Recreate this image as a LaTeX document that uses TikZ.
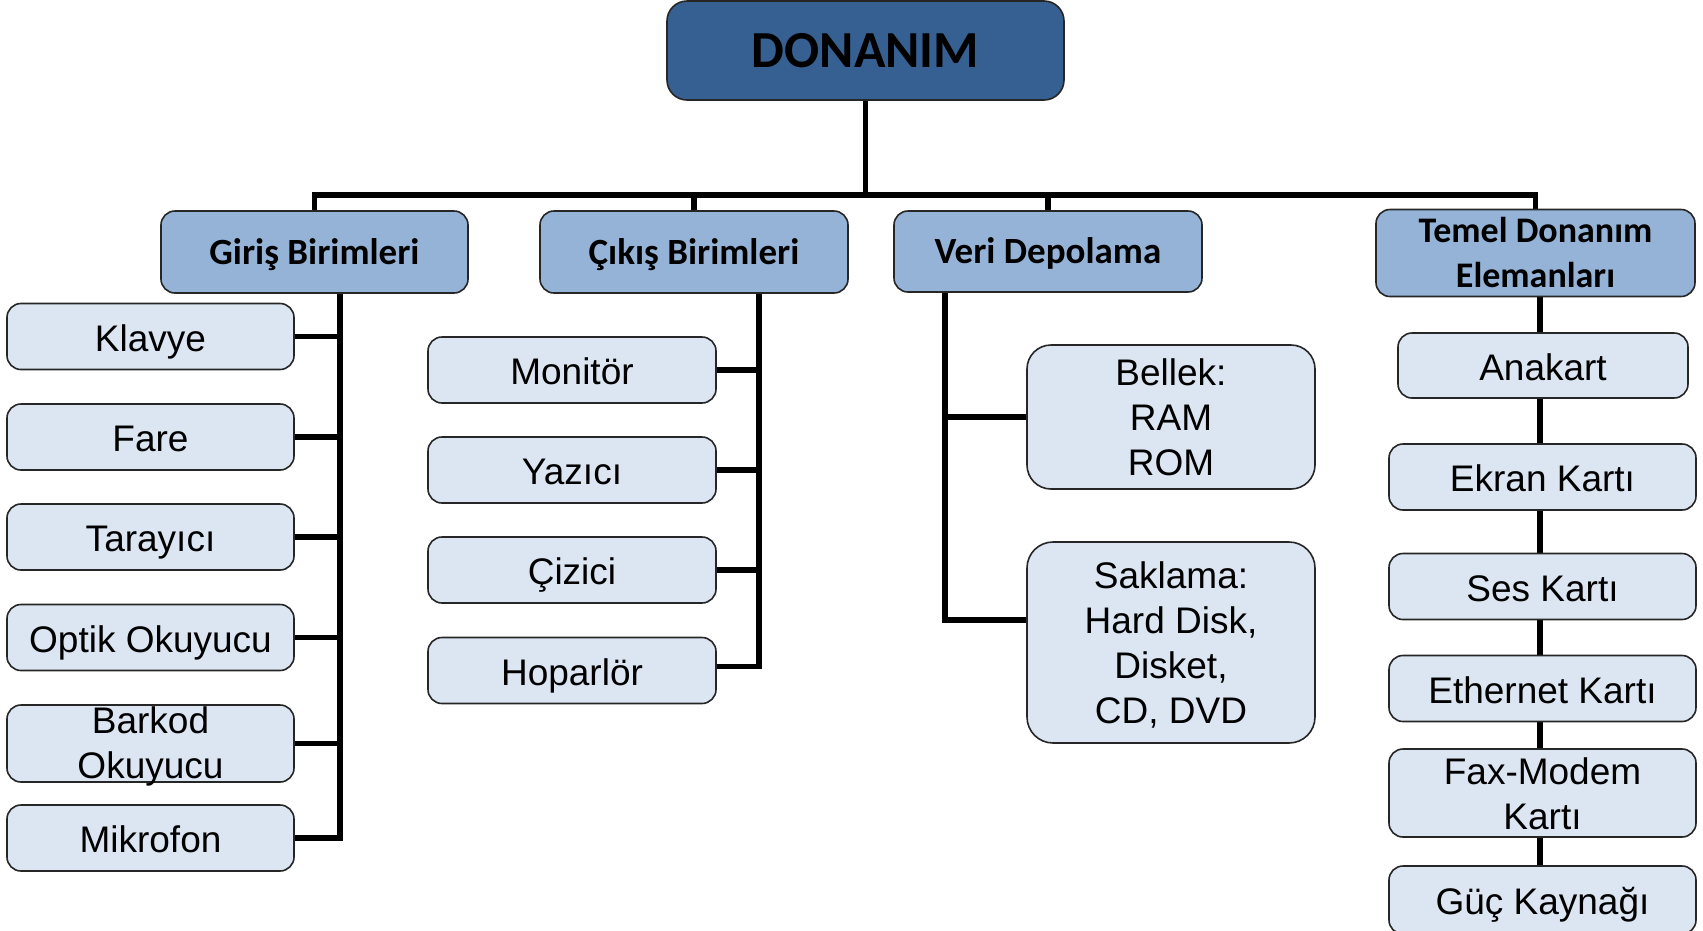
\documentclass[tikz,border=0pt]{standalone}
\usepackage{fontspec}
\setmainfont{Liberation Sans}
\newfontfamily\headfont{Carlito}
\usetikzlibrary{backgrounds}

\definecolor{rootblue}{HTML}{376092}
\definecolor{catblue}{HTML}{95B3D7}
\definecolor{itemblue}{HTML}{DCE6F2}

% soft grey towards the corners of the sheet
\pgfdeclareradialshading{vignette}{\pgfpoint{0bp}{0bp}}{%
  color(0bp)=(white); color(46bp)=(white); color(71bp)=(black!16)}

% taller first line for the multi-line labels
\newcommand\firstline[1][35pt]{\rule{0pt}{#1}}

\begin{document}
\begin{tikzpicture}[x=1pt,y=-1pt,
  box/.style={draw=black!85, line width=1.6pt, rounded corners=14pt,
              inner sep=0pt, align=center},
  root/.style={box, fill=rootblue, rounded corners=20pt,
               font=\headfont\bfseries\fontsize{52}{60}\selectfont},
  % fixed struts keep every baseline at the same place in its box
  cat/.style={box, fill=catblue,
              font=\headfont\bfseries\fontsize{37}{45}\selectfont,
              execute at begin node={\rule[-9pt]{0pt}{42pt}}},
  item/.style={box, fill=itemblue, font=\fontsize{37}{45}\selectfont,
              execute at begin node={\rule[-8pt]{0pt}{45pt}}},
  multi/.style={execute at begin node={}},
  gitem/.style={item, minimum width=287pt, minimum height=66pt},
  citem/.style={item, minimum width=288pt, minimum height=66pt},
  titem/.style={item, minimum width=307pt, minimum height=66pt},
  link/.style={line width=5.5pt, draw=black, line join=miter}
]
\useasboundingbox (0,0) rectangle (1703,930);

% root
\node[root, minimum width=397pt, minimum height=99pt] (top) at (865.5,50.5) {DONANIM};

% categories
\node[cat, minimum width=307pt, minimum height=82pt] (giris) at (314.5,252) {Giriş Birimleri};
\node[cat, minimum width=308pt, minimum height=82pt] (cikis) at (694,252) {Çıkış Birimleri};
\node[cat, minimum width=308pt, minimum height=81pt] (veri)  at (1048,251.5) {Veri Depolama};
\node[cat, multi, font=\headfont\bfseries\fontsize{36}{45}\selectfont,
      minimum width=319pt, minimum height=82pt]
  (temel) at (1535.5,253) {\firstline[33pt]Temel Donanım\\Elemanları};

% input devices
\node[gitem] (klavye) at (150.5,336.5) {Klavye};
\node[gitem] (fare)   at (150.5,437)   {Fare};
\node[gitem] (taray)  at (150.5,537)   {Tarayıcı};
\node[gitem] (optik)  at (150.5,637.5) {Optik Okuyucu};
% the label runs over the lower edge of this box
\node[gitem, multi, inner ysep=-6pt, minimum height=77pt]
  (barkod) at (150.5,743.5) {\firstline[32pt]Barkod\\Okuyucu};
\node[gitem] (mikro)  at (150.5,838)   {Mikrofon};

% output devices
\node[citem] (monitor)  at (572,370)   {Monitör};
\node[citem] (yazici)   at (572,470)   {Yazıcı};
\node[citem] (cizici)   at (572,570)   {Çizici};
\node[citem] (hoparlor) at (572,670.5) {Hoparlör};

% storage
\node[item, multi, rounded corners=24pt, minimum width=288pt, minimum height=144pt]
  (bellek) at (1171,417) {\firstline Bellek:\\RAM\\ROM};
\node[item, multi, rounded corners=26pt, minimum width=288pt, minimum height=201pt]
  (sakla) at (1171,642.5) {\firstline Saklama:\\Hard Disk,\\Disket,\\CD, DVD};

% basic hardware
\node[item, minimum width=290pt, minimum height=65pt] (anakart) at (1543,365.5) {Anakart};
\node[titem] (ekran) at (1542.5,477)   {Ekran Kartı};
\node[titem] (ses)   at (1542.5,586.5) {Ses Kartı};
\node[titem] (eth)   at (1542.5,688.5) {Ethernet Kartı};
\node[titem, multi, minimum height=84pt] (fax) at (1542.5,793) {\firstline Fax-Modem\\Kartı};
\node[titem, minimum height=68pt] (guc) at (1542.5,900) {Güç Kaynağı};

% trunk positions
\coordinate (bus) at (865.5,195);
\coordinate (gtr) at (340,0);
\coordinate (ctr) at (759,0);
\coordinate (vtr) at (945,0);
\coordinate (ttr) at (1540,0);

\begin{scope}[on background layer]
  \shade[shading=vignette] (0,0) rectangle (1703,930);

  % root to categories
  \draw[link] (top.south) -- (bus);
  \draw[link] (giris.north) |- (bus) -| (temel.north);
  \draw[link] (cikis.north) -- (cikis.north |- bus);
  \draw[link] (veri.north) -- (veri.north |- bus);

  % input devices
  \draw[link] (giris.south -| gtr) |- (mikro.east);
  \foreach \n in {klavye,fare,taray,optik,barkod}
    \draw[link] (\n.east) -- (\n.east -| gtr);

  % output devices
  \draw[link] (cikis.south -| ctr) |- ([yshift=4pt]hoparlor.east);
  \foreach \n in {monitor,yazici,cizici}
    \draw[link] (\n.east) -- (\n.east -| ctr);

  % storage
  \draw[link] (veri.south -| vtr) |- ([yshift=22.5pt]sakla.west);
  \draw[link] (bellek.west) -- (bellek.west -| vtr);

  % basic hardware
  \draw[link] (temel.south -| ttr) -- (guc.north -| ttr);
\end{scope}
\end{tikzpicture}
\end{document}
